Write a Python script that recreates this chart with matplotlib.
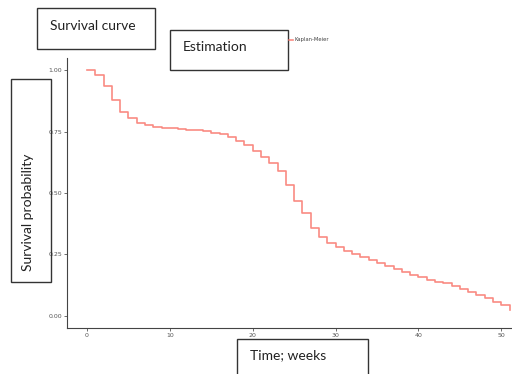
import matplotlib.pyplot as plt
from matplotlib.patches import Rectangle

# Kaplan-Meier estimate, one step per week
weeks = list(range(0, 52))
survival = [
    1.00, 0.98, 0.935, 0.88, 0.83, 0.803, 0.785, 0.775, 0.77, 0.766,
    0.763, 0.761, 0.758, 0.755, 0.751, 0.746, 0.738, 0.728, 0.713, 0.695,
    0.672, 0.648, 0.62, 0.59, 0.532, 0.467, 0.418, 0.358, 0.32, 0.295,
    0.279, 0.265, 0.252, 0.24, 0.228, 0.215, 0.202, 0.19, 0.178, 0.167,
    0.157, 0.148, 0.14, 0.132, 0.122, 0.111, 0.099, 0.086, 0.073, 0.058,
    0.043, 0.026,
]
x_ticks = [0, 10, 20, 30, 40, 50]
y_ticks = [0.00, 0.25, 0.50, 0.75, 1.00]
y_tick_labels = ["0.00", "0.25", "0.50", "0.75", "1.00"]

W, H = 512, 374
fig = plt.figure(figsize=(W / 100, H / 100), dpi=100)
ax = fig.add_axes([67 / W, 1 - 328 / H, 1 - 67 / W, (328 - 58) / H])

ax.step(weeks, survival, where="post", color="#F8766D", lw=1.2, alpha=0.85,
        label="Kaplan-Meier")
ax.set_xlim(-2.42, 51.3)
ax.set_ylim(-0.049, 1.049)
ax.set_xticks(x_ticks)
ax.set_yticks(y_ticks)
ax.set_yticklabels(y_tick_labels)
ax.tick_params(labelsize=4.5, colors="#555555", length=2, width=0.6, pad=1.5)
for side in ["top", "right"]:
    ax.spines[side].set_visible(False)
for side in ["left", "bottom"]:
    ax.spines[side].set_color("#444444")
    ax.spines[side].set_linewidth(0.8)

fig.legend(loc="center left", bbox_to_anchor=(286 / W, 1 - 40 / H), frameon=False,
           fontsize=3.8, handlelength=0.9, handletextpad=0.3, borderpad=0,
           labelcolor="#444444")


def boxed_label(x0, y0, x1, y1, text, tx, ty, rotation=0):
    # pixel coordinates from top-left of the picture
    fig.patches.append(Rectangle((x0 / W, 1 - y1 / H), (x1 - x0) / W, (y1 - y0) / H,
                                 transform=fig.transFigure, fill=False,
                                 edgecolor="#333333", lw=1.0))
    fig.text(tx / W, 1 - ty / H, text, fontsize=10, family="Lato", color="#222222",
             rotation=rotation, ha="center", va="center")


boxed_label(37, 8, 155, 49, "Survival curve", 93, 26)
boxed_label(170, 30, 288, 70, "Estimation", 215, 47)
boxed_label(11, 79, 51, 282, "Survival probability", 28, 212, rotation=90)
boxed_label(237, 339, 368, 380, "Time; weeks", 288, 355)

fig.savefig("out.png", dpi=100)
